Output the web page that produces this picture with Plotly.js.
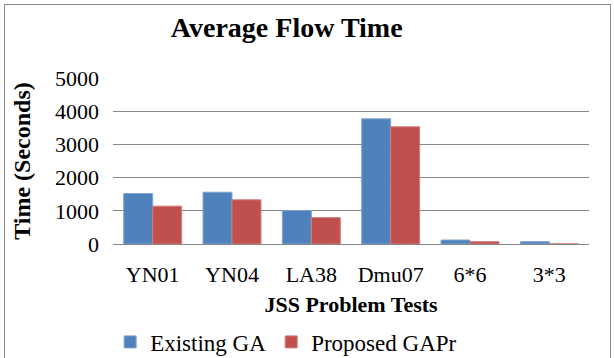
<!DOCTYPE html>
<html>
<head>
<meta charset="utf-8">
<script src="https://cdn.plot.ly/plotly-3.0.1.min.js"></script>
<style>
html,body{margin:0;padding:0;background:#fff;}
#chart{position:absolute;left:0;top:0;width:614px;height:358px;}
#frame{position:absolute;left:4px;top:4px;width:605px;height:356px;border:1px solid #8c8c8c;border-bottom:none;pointer-events:none;}
</style>
</head>
<body>
<div id="chart"></div>
<div id="frame"></div>
<script>
const categories = ["YN01", "YN04", "LA38", "Dmu07", "6*6", "3*3"];
const existingGA = [1520, 1560, 1010, 3770, 120, 70];
const proposedGAPr = [1140, 1330, 795, 3530, 70, 5];
const seriesNames = ["Existing GA", "Proposed GAPr"];
const yTicks = [0, 1000, 2000, 3000, 4000, 5000];

const serif = "Liberation Serif, Times New Roman, serif";

const traces = [
  {type: "bar", x: categories, y: existingGA, name: seriesNames[0],
   marker: {color: "#4f81bd", line: {color: "#7ea3d2", width: 1}}},
  {type: "bar", x: categories, y: proposedGAPr, name: seriesNames[1],
   marker: {color: "#c0504d", line: {color: "#d27c7a", width: 1}}}
];

const layout = {
  width: 614, height: 358,
  margin: {l: 113, r: 25, t: 78, b: 114, autoexpand: false},
  paper_bgcolor: "#fff", plot_bgcolor: "#fff",
  font: {family: serif, color: "#000"},
  bargap: 0.27, bargroupgap: 0,
  title: {text: "<b>Average Flow Time</b>", font: {family: serif, size: 28, color: "#000"},
          x: 0.467, xanchor: "center", xref: "container",
          y: 0.925, yanchor: "middle", yref: "container", automargin: false},
  xaxis: {
    type: "category", automargin: false,
    tickfont: {family: serif, size: 22, color: "#000"},
    ticks: "", showgrid: false, showline: false,
    ticklabelstandoff: 15,
    title: {text: "<b>JSS Problem Tests</b>", font: {family: serif, size: 22, color: "#000"}, standoff: 10}
  },
  yaxis: {
    range: [0, 5000], tickvals: yTicks, ticktext: yTicks.map(String), automargin: false,
    tickfont: {family: serif, size: 22, color: "#000"},
    showgrid: true, gridcolor: "#868686", gridwidth: 1,
    zeroline: true, zerolinecolor: "#868686", zerolinewidth: 1,
    showline: false, ticks: "", ticklabelstandoff: 13,
    title: {text: "<b>Time (Seconds)</b>", font: {family: serif, size: 24, color: "#000"}, standoff: 17}
  },
  showlegend: true,
  legend: {orientation: "h", x: -0.006, xanchor: "left", y: -0.59, yanchor: "middle",
           font: {family: serif, size: 23, color: "#000"}, traceorder: "normal",
           itemwidth: 30, tracegroupgap: 0, bgcolor: "rgba(0,0,0,0)"}
};

Plotly.newPlot("chart", traces, layout, {displayModeBar: false, staticPlot: true});
</script>
</body>
</html>
